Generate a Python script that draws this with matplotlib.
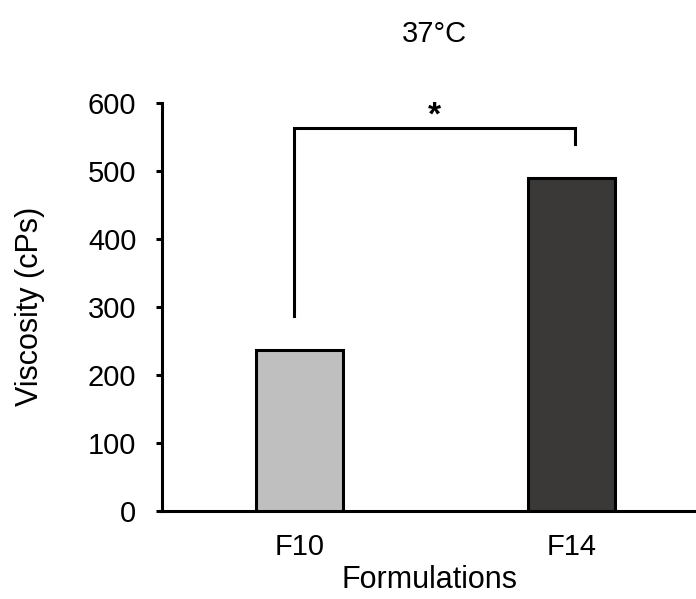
import matplotlib

matplotlib.use("Agg", force=True)
import matplotlib.pyplot as plt

# data
formulations = ["F10", "F14"]
viscosity = [237, 490]
bar_colors = ["#bfbfbf", "#3b3838"]
y_ticks = [0, 100, 200, 300, 400, 500, 600]

plt.rcParams["font.family"] = ["Liberation Sans", "DejaVu Sans"]

fig = plt.figure(figsize=(6.96, 5.99), dpi=100)
ax = fig.add_axes([0.2328, 0.1469, 0.7672, 0.6816])

x = list(range(len(formulations)))
ax.bar(x, viscosity, width=0.32, color=bar_colors, edgecolor="black", linewidth=2.2, zorder=3)

ax.set_xlim(-0.507, 1.456)
ax.set_ylim(0, 600)
ax.set_yticks(y_ticks)
ax.set_xticks(x)
ax.set_xticklabels(formulations)

for side in ("top", "right"):
    ax.spines[side].set_visible(False)
for side in ("left", "bottom"):
    ax.spines[side].set_linewidth(2.2)
ax.tick_params(axis="y", direction="out", length=4.5, width=2.2, labelsize=21, pad=14)
ax.tick_params(axis="x", length=0, labelsize=21, pad=16)

ax.set_xlabel("Formulations", fontsize=22, labelpad=3)
ax.set_ylabel("Viscosity (cPs)", fontsize=22, labelpad=31)
ax.set_title("37°C", fontsize=21, pad=44, x=0.51)

# significance bracket between the two bars
gap = 49
top = max(viscosity) + 73
xl, xr = x[0] - 0.022, x[1] + 0.011
ax.plot([xl, xl, xr, xr], [viscosity[0] + gap, top, top, viscosity[1] + gap],
        color="black", linewidth=2.2, clip_on=False, solid_joinstyle="miter")
ax.text((xl + xr) / 2, top - 6, "*", ha="center", va="bottom", fontsize=24, fontweight="bold")

fig.savefig("out.png", dpi=100)
